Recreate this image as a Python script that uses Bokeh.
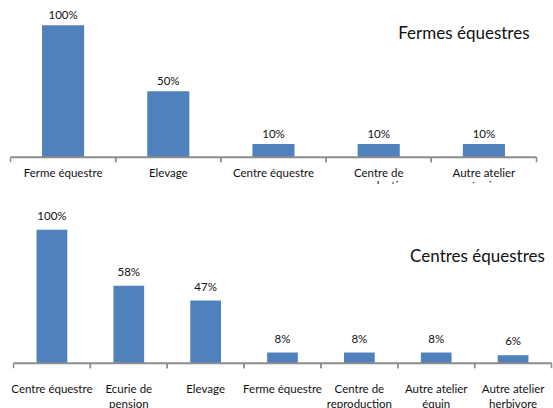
from bokeh.plotting import figure
from bokeh.models import (FactorRange, Range1d, LabelSet, ColumnDataSource,
                          Label)
from bokeh.core.properties import value
from bokeh.transform import dodge
from bokeh.layouts import column
from bokeh.embed import file_html
from bokeh.resources import INLINE

FONT = "Lato"
BAR_COLOR = "#4F81BD"
AXIS_COLOR = "#8C8C8C"
TEXT_COLOR = "#111111"

# ---------------- data ----------------
top_title = "Fermes équestres"
top_categories = ["Ferme équestre", "Elevage", "Centre équestre",
                  "Centre de reproduction", "Autre atelier équin"]
top_tick_labels = ["Ferme équestre", "Elevage", "Centre équestre",
                   "Centre de\nreproduction", "Autre atelier\néquin"]
top_values = [100, 50, 10, 10, 10]

bottom_title = "Centres équestres"
bottom_categories = ["Centre équestre", "Ecurie de pension", "Elevage",
                     "Ferme équestre", "Centre de reproduction",
                     "Autre atelier équin", "Autre atelier herbivore"]
bottom_tick_labels = ["Centre équestre", "Ecurie de\npension", "Elevage",
                      "Ferme équestre", "Centre de\nreproduction",
                      "Autre atelier\néquin", "Autre atelier\nherbivore"]
bottom_values = [100, 58, 47, 8, 8, 8, 6]

W = 553


def make_chart(categories, tick_labels, values, title, height, axis_y_px,
               axis_x0_px, cat_px, px_per_unit, value_gap, line1_gap,
               line_step, title_right_px, title_y_px):
    n = len(categories)
    pad_px = 1.0
    left_border = int(round(axis_x0_px - pad_px))
    frame_w = int(round(min(W - left_border, n * cat_px + 2 * pad_px)))
    right_border = W - left_border - frame_w
    pad_units = 2 * pad_px / cat_px
    cat_actual = frame_w / (n + pad_units)
    x0_actual = left_border + pad_units / 2 * cat_actual
    xr = FactorRange(factors=categories, range_padding=pad_units,
                     range_padding_units="absolute")
    yr = Range1d(-(height - axis_y_px) / px_per_unit, axis_y_px / px_per_unit)
    p = figure(x_range=xr, y_range=yr, width=W, height=height,
               output_backend="svg", toolbar_location=None,
               x_axis_location=None, y_axis_location=None,
               min_border=0, min_border_left=left_border,
               min_border_right=right_border,
               min_border_top=0, min_border_bottom=0)
    try:
        p.frame_align = False
    except Exception:
        pass
    p.grid.visible = False
    p.outline_line_color = None
    p.background_fill_color = "white"
    p.border_fill_color = "white"

    u = 1.0 / px_per_unit
    src = ColumnDataSource(dict(
        cat=categories, val=values,
        lab=[f"{v}%" for v in values],
        lab_y=[v + value_gap * u for v in values],
        l1=[t.split("\n")[0] for t in tick_labels],
        l2=[(t.split("\n") + [""])[1] for t in tick_labels],
        zero=[0] * n,
        tick_end=[-5 * u] * n,
        l1_y=[-line1_gap * u] * n,
        l2_y=[-(line1_gap + line_step) * u] * n,
    ))
    p.vbar(x="cat", top="val", width=0.4, source=src,
           fill_color=BAR_COLOR, line_color=None)

    # category axis: baseline and boundary ticks
    left_edge = dodge("cat", -0.5, range=xr)
    right_edge = dodge("cat", 0.5, range=xr)
    p.segment(x0=left_edge, x1=right_edge, y0="zero", y1="zero", source=src,
              line_color=AXIS_COLOR, line_width=2)
    p.segment(x0=left_edge, x1=left_edge, y0="zero", y1="tick_end",
              source=src, line_color=AXIS_COLOR, line_width=1.5)
    p.segment(x0=right_edge, x1=right_edge, y0="zero", y1="tick_end",
              source=src, line_color=AXIS_COLOR, line_width=1.5)

    common = dict(text_font=value(FONT), text_color=TEXT_COLOR,
                  text_align="center", text_baseline="middle",
                  text_font_size="11.5px", source=src)
    p.add_layout(LabelSet(x="cat", y="lab_y", text="lab", **common))
    p.add_layout(LabelSet(x="cat", y="l1_y", text="l1", **common))
    p.add_layout(LabelSet(x="cat", y="l2_y", text="l2", **common))

    p.add_layout(Label(x=(title_right_px - x0_actual) / cat_actual,
                       y=(axis_y_px - title_y_px) * u,
                       text=title, text_font=FONT, text_font_size="17px",
                       text_color=TEXT_COLOR, text_align="right",
                       text_baseline="middle"))
    return p


# pixel positions are measured relative to each figure's canvas
top = make_chart(top_categories, top_tick_labels, top_values, top_title,
                 height=184, axis_y_px=156.7, axis_x0_px=9, cat_px=105.5,
                 px_per_unit=1.32, value_gap=10.4, line1_gap=15.6,
                 line_step=13, title_right_px=530, title_y_px=31.7)
bot = make_chart(bottom_categories, bottom_tick_labels, bottom_values,
                 bottom_title, height=224, axis_y_px=178.7, axis_x0_px=12,
                 cat_px=77.3, px_per_unit=1.334, value_gap=14.5,
                 line1_gap=25, line_step=15.6, title_right_px=545.3,
                 title_y_px=71)

layout = column(top, bot, spacing=0)
open("out.html", "w").write(file_html(layout, INLINE))
